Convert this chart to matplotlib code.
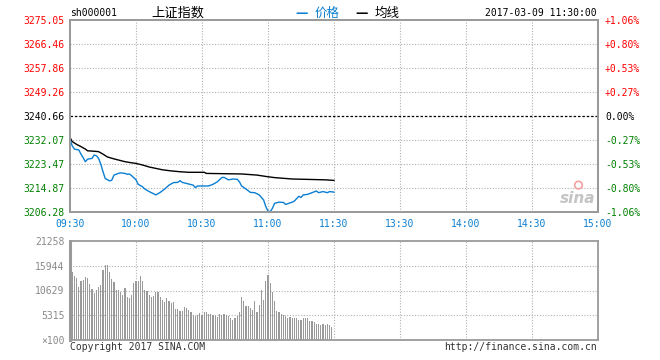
import numpy as np
import matplotlib
matplotlib.use("Agg")
import matplotlib.pyplot as plt

# ---- data (minutes since 09:30, 120 = 11:30/13:00) ----
price_min = [0, 1, 2, 4, 5, 6, 7, 8, 10, 11, 12, 13, 14, 15, 16, 18, 19, 20, 22, 23,
             25, 26, 27, 28, 30, 31, 33, 34, 36, 37, 39, 41, 43, 45, 47, 49, 50, 51,
             54, 56, 57, 58, 63, 65, 67, 69, 70, 72, 74, 76, 77, 78, 80, 82, 84, 86,
             88, 89, 90, 91, 92, 93, 95, 97, 98, 101, 102, 104, 105, 106, 108, 110,
             112, 113, 115, 117, 118, 120]
price_val = [3232.3, 3230.0, 3228.8, 3228.5, 3227.0, 3225.7, 3224.3, 3225.2, 3225.5,
             3226.7, 3226.4, 3225.5, 3223.4, 3220.7, 3218.3, 3217.4, 3217.7, 3219.5,
             3220.1, 3220.3, 3220.1, 3219.8, 3219.9, 3219.3, 3217.8, 3216.2, 3215.3,
             3214.5, 3213.6, 3213.2, 3212.4, 3213.3, 3214.5, 3215.9, 3216.8, 3216.9,
             3217.5, 3216.9, 3216.3, 3215.9, 3215.0, 3215.6, 3215.6, 3216.2, 3217.1,
             3218.6, 3218.7, 3217.8, 3218.1, 3218.0, 3217.1, 3215.6, 3214.5, 3213.3,
             3213.2, 3212.4, 3210.6, 3208.2, 3206.6, 3206.4, 3207.6, 3209.4, 3209.8,
             3209.7, 3209.0, 3209.8, 3210.2, 3211.9, 3211.5, 3212.4, 3212.6, 3213.2,
             3213.8, 3213.2, 3213.6, 3213.2, 3213.6, 3213.4]

avg_min = [0, 1, 3, 5, 7, 8, 10, 13, 15, 17, 20, 22, 25, 28, 30, 33, 36, 39, 42, 46,
           50, 54, 61, 62, 78, 85, 90, 93, 101, 116, 120]
avg_val = [3233.0, 3231.5, 3230.5, 3229.7, 3228.8, 3228.2, 3228.1, 3227.9, 3227.0,
           3226.0, 3225.3, 3224.9, 3224.3, 3223.9, 3223.7, 3223.1, 3222.4, 3221.9,
           3221.4, 3221.0, 3220.7, 3220.5, 3220.5, 3220.1, 3219.9, 3219.5, 3218.9,
           3218.6, 3218.1, 3217.8, 3217.6]

volume = [14520, 13670, 13394, 11480, 12756, 12969, 13606, 13394, 12118, 11055,
          9992, 10843, 11480, 11906, 15023, 16016, 16158, 14669, 13181, 12543,
          10630, 10630, 10205, 9567, 11268, 9142, 8929, 9567, 12331, 12756,
          12756, 13819, 12756, 10843, 10417, 9567, 9142, 9354, 10205, 10205,
          9142, 8504, 8150, 8929, 8291, 7866, 8079, 6591, 6591, 6165,
          6165, 7016, 6803, 6378, 5953, 5315, 5102, 5315, 5740, 5315,
          5953, 5953, 5528, 5670, 5315, 5102, 4960, 5670, 5315, 5528,
          5315, 5102, 4677, 4252, 4677, 5102, 5953, 9142, 8291, 7228,
          7228, 6803, 6378, 8291, 5953, 7441, 10630, 8504, 12756, 14032,
          12331, 10205, 8291, 6165, 5953, 5528, 5315, 5102, 4677, 4960,
          4677, 4819, 4677, 4394, 4252, 4677, 4819, 4677, 4181, 4039,
          3827, 3543, 3402, 3260, 3402, 3260, 3402, 3260, 2835]

price_ticks = [3275.05, 3266.46, 3257.86, 3249.26, 3240.66, 3232.07, 3223.47, 3214.87, 3206.28]
pct_labels = ["+1.06%", "+0.80%", "+0.53%", "+0.27%", "0.00%", "-0.27%", "-0.53%", "-0.80%", "-1.06%"]
time_labels = ["09:30", "10:00", "10:30", "11:00", "11:30", "13:30", "14:00", "14:30", "15:00"]
vol_ticks = [21258, 15944, 10629, 5315]

RED, GREEN, BLUE, GRAY = "#ff0000", "#008000", "#0a7fd2", "#9a9a9a"
MONO = "DejaVu Sans Mono"
CJK = ["Noto Sans CJK SC", "DejaVu Sans"]
W, H = 660, 360

fig = plt.figure(figsize=(6.6, 3.6), dpi=100)

def px(x0, y0, w, h):
    return [x0 / W, 1 - (y0 + h) / H, w / W, h / H]

ax = fig.add_axes(px(70, 20, 528, 192))
axv = fig.add_axes(px(70, 241, 528, 99))

grid_kw = dict(color="#b0b0b0", lw=0.8, ls=(0, (1, 1.5)), zorder=0.5)
for x in range(30, 240, 30):
    ax.axvline(x, **grid_kw)
    axv.axvline(x, **grid_kw)
for y in price_ticks[1:-1]:
    if y == 3240.66:
        ax.axhline(y, color="black", lw=0.9, ls=(0, (2, 1.5)), zorder=0.6)
    else:
        ax.axhline(y, **grid_kw)

ax.plot(avg_min, avg_val, color="black", lw=1.0, zorder=2)
ax.plot(price_min, price_val, color=BLUE, lw=1.0, zorder=3)
ax.set_xlim(0, 240)
ax.set_ylim(price_ticks[-1], price_ticks[0])

ax.set_yticks(price_ticks)
ax.set_yticklabels([f"{v:.2f}" for v in price_ticks], family=MONO, fontsize=7)
for lbl, v in zip(ax.get_yticklabels(), price_ticks):
    lbl.set_color(RED if v > 3240.66 else (GREEN if v < 3240.66 else "black"))
ax.set_xticks(range(0, 241, 30))
ax.set_xticklabels(time_labels, family=MONO, fontsize=7, color=BLUE)
ax.tick_params(length=0, pad=4)
ax.tick_params(axis="x", pad=5)

axr = ax.twinx()
axr.set_ylim(price_ticks[-1], price_ticks[0])
axr.set_yticks(price_ticks)
axr.set_yticklabels(pct_labels, family=MONO, fontsize=7)
for lbl, t in zip(axr.get_yticklabels(), pct_labels):
    lbl.set_color(RED if t.startswith("+") else (GREEN if t.startswith("-") else "black"))
axr.tick_params(length=0, pad=5)

for a in (ax, axr, axv):
    for s in a.spines.values():
        s.set_color(GRAY)
        s.set_linewidth(1.3)
axv.spines["left"].set_linewidth(2.2)

# volume
axv.bar(np.arange(1, len(volume) + 1), volume, width=0.5, color=GRAY, zorder=1)
for y in vol_ticks[1:]:
    axv.axhline(y, **grid_kw)
axv.set_xlim(0, 240)
axv.set_ylim(0, vol_ticks[0])
axv.set_xticks([])
axv.set_yticks(vol_ticks + [0])
axv.set_yticklabels([str(v) for v in vol_ticks] + ["\u00d7100"], family=MONO,
                    fontsize=7, color="#8a8a8a")
axv.tick_params(length=0, pad=4)

# header
fig.text(70 / W, 1 - 13 / H, "sh000001", family=MONO, fontsize=7, va="center")
fig.text(151 / W, 1 - 13 / H, "上证指数", family=CJK, fontsize=9.5, va="center")
fig.text(295 / W, 1 - 13 / H, "\u2014", color=BLUE, fontsize=9, va="center", fontweight="bold")
fig.text(315 / W, 1 - 13 / H, "价格", family=CJK, fontsize=9, va="center", color=BLUE)
fig.text(355 / W, 1 - 13 / H, "\u2014", color="black", fontsize=9, va="center", fontweight="bold")
fig.text(375 / W, 1 - 13 / H, "均线", family=CJK, fontsize=9, va="center")
fig.text(597 / W, 1 - 13 / H, "2017-03-09 11:30:00", family=MONO, fontsize=7,
         va="center", ha="right")

# footer
fig.text(70 / W, 1 - 347 / H, "Copyright 2017 SINA.COM", family=MONO, fontsize=7,
         va="center", color="#333333")
fig.text(597 / W, 1 - 347 / H, "http://finance.sina.com.cn", family=MONO, fontsize=7,
         va="center", ha="right", color="#333333")

# sina watermark
ax.text(0.995, 0.03, "sina", transform=ax.transAxes, ha="right", va="bottom",
        fontsize=11, fontstyle="italic", fontweight="bold", color="#c4c4c4", zorder=1)
ax.scatter([0.963], [0.14], transform=ax.transAxes, s=30, facecolor="none",
           edgecolor="#f3a0a0", lw=1.2, zorder=1, clip_on=False)

fig.savefig("out.png", dpi=100)
